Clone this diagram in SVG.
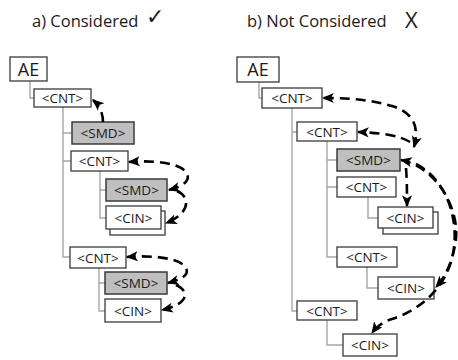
<svg xmlns="http://www.w3.org/2000/svg" width="458" height="360" viewBox="0 0 458 360">
<style>
.t{font-family:"Open Sans","Liberation Sans",sans-serif;fill:#1a1a1a}
.n{font-size:13.5px}
.box{fill:#fff;stroke:#3a3a3a;stroke-width:1.3}
.smd{fill:#bfbfbf;stroke:#3a3a3a;stroke-width:1.5}
.tree{fill:none;stroke:#a6a6a6;stroke-width:1.4}
.dash{fill:none;stroke:#000;stroke-width:2.6;stroke-dasharray:10 6}
</style>
<defs>
<marker id="ah" markerUnits="userSpaceOnUse" markerWidth="12" markerHeight="12" refX="9" refY="5" orient="auto-start-reverse" viewBox="0 0 10 10">
<path d="M0,0.8 L10,5 L0,9.2 L2.5,5 Z" fill="#000"/>
</marker>
</defs>

<g id="titles">
<text class="t" x="32" y="27" font-size="16.5">a) Considered</text>
<text class="t" x="146" y="24" font-size="22" font-family="DejaVu Sans">✓</text>
<text class="t" x="247" y="27" font-size="16.5">b) Not Considered</text>
<text class="t" x="405" y="28" font-size="22">X</text>
</g>

<g id="tree-lines">
<path class="tree" d="M30,81 V98 H34"/>
<path class="tree" d="M63,107 V257 H70 M63,133 H72 M63,161 H71"/>
<path class="tree" d="M100,171 V218 H106 M100,190 H106"/>
<path class="tree" d="M99,268 V311 H105 M99,283 H105"/>
<path class="tree" d="M259,82 V98 H262"/>
<path class="tree" d="M292,108 V311 H297 M292,132 H297"/>
<path class="tree" d="M327,141 V257 H337 M327,160 H337 M327,187 H337"/>
<path class="tree" d="M368,197 V218 H378"/>
<path class="tree" d="M367,267 V288 H378"/>
<path class="tree" d="M327,320 V345 H343"/>
</g>

<g id="ae-a"><rect class="box" x="10" y="57" width="37" height="24"/><text class="t" x="28.5" y="75.5" font-size="18" text-anchor="middle">AE</text></g>
<g id="cnt-a1"><rect class="box" x="34" y="89" width="57" height="18"/><text class="t n" x="62.5" y="103" text-anchor="middle">&lt;CNT&gt;</text></g>
<g id="smd-a1"><rect class="smd" x="72" y="122" width="62" height="22"/><text class="t n" x="103" y="138" text-anchor="middle">&lt;SMD&gt;</text></g>
<g id="cnt-a2"><rect class="box" x="71" y="151" width="57" height="20"/><text class="t n" x="99.5" y="166" text-anchor="middle">&lt;CNT&gt;</text></g>
<g id="smd-a2"><rect class="smd" x="106" y="179" width="61" height="22"/><text class="t n" x="136.5" y="195" text-anchor="middle">&lt;SMD&gt;</text></g>
<g id="cin-a1"><rect class="box" x="110" y="211" width="55" height="24"/><rect class="box" x="106" y="206" width="55" height="23"/><text class="t n" x="133.5" y="222.5" text-anchor="middle">&lt;CIN&gt;</text></g>
<g id="cnt-a3"><rect class="box" x="70" y="247" width="56" height="21"/><text class="t n" x="98" y="262.5" text-anchor="middle">&lt;CNT&gt;</text></g>
<g id="smd-a3"><rect class="smd" x="105" y="272" width="62" height="22"/><text class="t n" x="136" y="288" text-anchor="middle">&lt;SMD&gt;</text></g>
<g id="cin-a3"><rect class="box" x="105" y="299" width="56" height="23"/><text class="t n" x="133" y="315.5" text-anchor="middle">&lt;CIN&gt;</text></g>

<g id="ae-b"><rect class="box" x="237" y="57" width="42" height="25"/><text class="t" x="258" y="76" font-size="18" text-anchor="middle">AE</text></g>
<g id="cnt-b1"><rect class="box" x="262" y="88" width="60" height="20"/><text class="t n" x="292" y="103" text-anchor="middle">&lt;CNT&gt;</text></g>
<g id="cnt-b2"><rect class="box" x="297" y="122" width="60" height="19"/><text class="t n" x="327" y="136.5" text-anchor="middle">&lt;CNT&gt;</text></g>
<g id="smd-b"><rect class="smd" x="337" y="149" width="63" height="22"/><text class="t n" x="368.5" y="165" text-anchor="middle">&lt;SMD&gt;</text></g>
<g id="cnt-b3"><rect class="box" x="337" y="177" width="59" height="20"/><text class="t n" x="366.5" y="192" text-anchor="middle">&lt;CNT&gt;</text></g>
<g id="cin-b1"><rect class="box" x="383" y="212" width="55" height="22"/><rect class="box" x="378" y="207" width="55" height="21"/><text class="t n" x="405.5" y="222.5" text-anchor="middle">&lt;CIN&gt;</text></g>
<g id="cnt-b4"><rect class="box" x="337" y="247" width="60" height="20"/><text class="t n" x="367" y="262" text-anchor="middle">&lt;CNT&gt;</text></g>
<g id="cin-b2"><rect class="box" x="378" y="277" width="56" height="22"/><text class="t n" x="406" y="293" text-anchor="middle">&lt;CIN&gt;</text></g>
<g id="cnt-b5"><rect class="box" x="297" y="301" width="60" height="19"/><text class="t n" x="327" y="315.5" text-anchor="middle">&lt;CNT&gt;</text></g>
<g id="cin-b3"><rect class="box" x="343" y="334" width="54" height="22"/><text class="t n" x="370" y="350" text-anchor="middle">&lt;CIN&gt;</text></g>

<g id="connectors">
<path class="dash" d="M103,122 C103,114 100,106 93,100" marker-end="url(#ah)"/>
<path class="dash" d="M169,190 C180,187 191,182 187,174 C182,163 155,160 129,162" marker-start="url(#ah)" marker-end="url(#ah)"/>
<path class="dash" d="M177,191 C191,197 190,214 166,223" marker-end="url(#ah)"/>
<path class="dash" d="M168,283 C179,280 190,276 186,268 C181,258 153,255 127,257" marker-start="url(#ah)" marker-end="url(#ah)"/>
<path class="dash" d="M176,285 C190,291 189,304 162,310" marker-end="url(#ah)"/>

<path class="dash" d="M414,147 C420,125 412,112 392,106 C368,99 345,98 323,98" marker-start="url(#ah)" marker-end="url(#ah)"/>
<path class="dash" d="M410,142 C400,136 385,133 358,132" marker-end="url(#ah)"/>
<path class="dash" d="M406,168 C407,180 407,192 407,206" marker-end="url(#ah)"/>
<path class="dash" d="M401,160 C440,168 462,215 455,245 C452,262 446,276 436,287" marker-start="url(#ah)" marker-end="url(#ah)"/>
<path class="dash" d="M416,164 C448,180 462,225 451,262 C441,295 412,313 392,319 C383,322 377,326 372,333" marker-end="url(#ah)"/>
</g>
</svg>
